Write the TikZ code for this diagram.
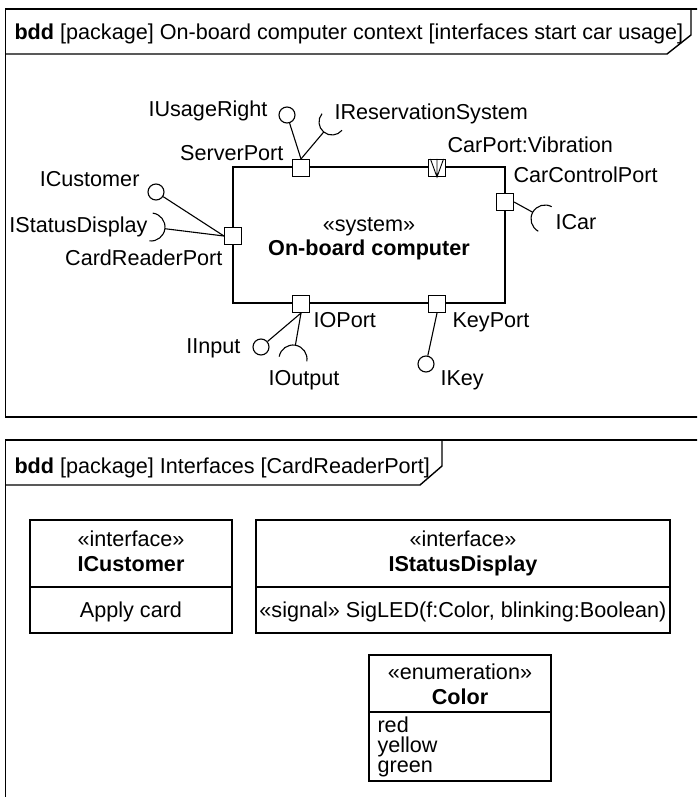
\documentclass[tikz,border=0pt]{standalone}
\usepackage{fontspec}
\setmainfont{Liberation Sans}
\begin{document}
\begin{tikzpicture}[x=1pt,y=-1pt,
  font=\fontsize{21.6}{25}\selectfont,
  line width=1.1pt,
  frame/.style={line width=1.4pt},
  port/.style={draw, fill=white, rectangle, minimum size=17pt, inner sep=0pt},
  ball/.style={draw, circle, minimum size=16pt, inner sep=0pt},
  lbl/.style={inner sep=0pt},
  bfl/.style={inner sep=0pt, font=\fontsize{21.6}{25}\selectfont\bfseries},
  block/.style={draw, rectangle, inner sep=0pt}]
\useasboundingbox (0,0) rectangle (697,797);
\clip (0,0) rectangle (697,797);

% ---------- top frame ----------
\draw[frame] (720,9) -- (5.5,9) -- (5.5,417) -- (720,417);
\draw[frame] (5.5,54) -- (667,54) -- (691,35) -- (691,9);
\node[lbl, anchor=base west] (t1) at (14,40) {\textbf{bdd} [package] On-board computer context [interfaces start car usage]};

% system block
\node[block, minimum width=272pt, minimum height=136pt] (sys) at (369,235) {};
\node[lbl, anchor=base] (st) at (369,231) {«system»};
\node[bfl, anchor=base] (sn) at (369,255) {On-board computer};

% ports
\node[port] (sp) at (301,168) {};
\node[port] (vp) at (437,168) {};
\node[port] (ccp) at (505,202) {};
\node[port] (crp) at (233,236) {};
\node[port] (iop) at (301,304) {};
\node[port] (kp) at (437,304) {};
\draw[line width=0.9pt] ([xshift=2.5pt]vp.north west) -- (vp.south) -- ([xshift=-2.5pt]vp.north east)
  (vp.north) -- (vp.south);

% provided interfaces (balls)
\node[ball] (bUR) at (287,115) {};
\node[ball] (bCu) at (156,192) {};
\node[ball] (bIn) at (261,347) {};
\node[ball] (bKey) at (426,364) {};
\draw (sp.north) -- (bUR);
\draw (crp.west) -- (bCu);
\draw (iop.south) -- (bIn);
\draw (kp.south) -- (bKey);

% required interfaces (sockets)
\coordinate (cRes) at (332,122);
\coordinate (mRes) at ([shift={(129.6:13)}]cRes);
\draw ([shift={(39.6:13)}]cRes) arc[start angle=39.6, delta angle=180, radius=13];
\draw (sp.north) -- (mRes);

\coordinate (cSD) at (151,227);
\coordinate (mSD) at ([shift={(7:14)}]cSD);
\draw ([shift={(-83:14)}]cSD) arc[start angle=-83, delta angle=180, radius=14];
\draw (crp.west) -- (mSD);

\coordinate (cCar) at (545,219);
\coordinate (mCar) at ([shift={(208.7:14)}]cCar);
\draw ([shift={(118.7:14)}]cCar) arc[start angle=118.7, delta angle=180, radius=14];
\draw (ccp.east) -- (mCar);

\coordinate (cOut) at (293,359);
\coordinate (mOut) at ([shift={(-80.2:14)}]cOut);
\draw ([shift={(-170.2:14)}]cOut) arc[start angle=-170.2, delta angle=180, radius=14];
\draw (iop.south) -- (mOut);

% labels
\node[lbl, anchor=base east] (lUR) at (268,117) {IUsageRight};
\node[lbl, anchor=base west] (lRes) at (334,119.5) {IReservationSystem};
\node[lbl, anchor=base east] (lSP) at (284,160.5) {ServerPort};
\node[lbl, anchor=base west] (lVP) at (447,152.5) {CarPort:Vibration};
\node[lbl, anchor=base west] (lCCP) at (513,182.5) {CarControlPort};
\node[lbl, anchor=base east] (lCu) at (140,186.5) {ICustomer};
\node[lbl, anchor=base east] (lSD) at (148,232.5) {IStatusDisplay};
\node[lbl, anchor=base east] (lCRP) at (223,265.5) {CardReaderPort};
\node[lbl, anchor=base west] (lCar) at (555,229.5) {ICar};
\node[lbl, anchor=base east] (lIn) at (241,353.5) {IInput};
\node[lbl, anchor=base west] (lOut) at (268,385.5) {IOutput};
\node[lbl, anchor=base west] (lIOP) at (313,327.5) {IOPort};
\node[lbl, anchor=base west] (lKP) at (452,327.5) {KeyPort};
\node[lbl, anchor=base west] (lKey) at (440,385.5) {IKey};

% ---------- bottom frame ----------
\draw[frame] (720,440) -- (5.5,440) -- (5.5,810);
\draw[frame] (5.5,485) -- (420,485) -- (442,466) -- (442,440);
\node[lbl, anchor=base west] (t2) at (14,473) {\textbf{bdd} [package] Interfaces [CardReaderPort]};

% ICustomer
\node[block, minimum width=202pt, minimum height=113pt] (icb) at (131,576.5) {};
\draw (30,587) -- (232,587);
\node[lbl, anchor=base] (icS) at (131,546) {«interface»};
\node[bfl, anchor=base] (icN) at (131,571) {ICustomer};
\node[lbl, anchor=base] (icO) at (131,617) {Apply card};

% IStatusDisplay
\node[block, minimum width=414pt, minimum height=113pt] (isb) at (463,576.5) {};
\draw (256,587) -- (670,587);
\node[lbl, anchor=base] (isS) at (463,546) {«interface»};
\node[bfl, anchor=base] (isN) at (463,571) {IStatusDisplay};
\node[lbl, anchor=base] (isO) at (463,617) {«signal» SigLED(f:Color, blinking:Boolean)};

% Color enumeration
\node[block, minimum width=182pt, minimum height=126pt] (cb) at (460,718) {};
\draw (369,712) -- (551,712);
\node[lbl, anchor=base] (cbS) at (460,679) {«enumeration»};
\node[bfl, anchor=base] (cbN) at (460,704) {Color};
\node[lbl, anchor=base west] (cR) at (377,732) {red};
\node[lbl, anchor=base west] (cY) at (377,752) {yellow};
\node[lbl, anchor=base west] (cG) at (377,772) {green};
\end{tikzpicture}
\end{document}
